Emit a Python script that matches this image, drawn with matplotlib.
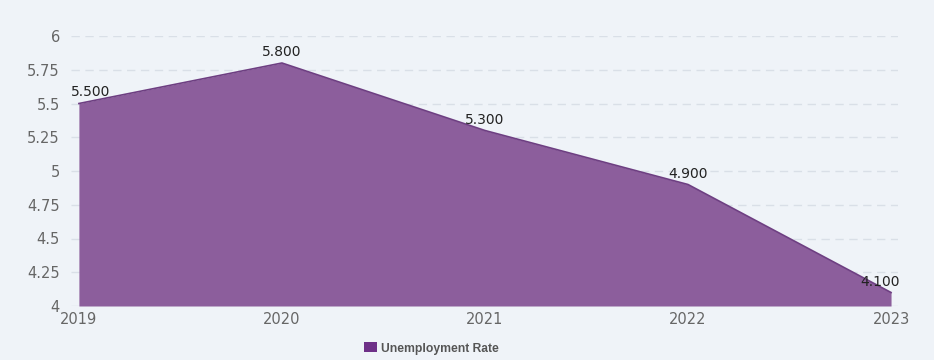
import numpy as np
import matplotlib.pyplot as plt
from matplotlib.patches import Patch

years = [2019, 2020, 2021, 2022, 2023]
rate = [5.5, 5.8, 5.3, 4.9, 4.1]
y_ticks = [4, 4.25, 4.5, 4.75, 5, 5.25, 5.5, 5.75, 6]
y_labels = ["4", "4.25", "4.5", "4.75", "5", "5.25", "5.5", "5.75", "6"]
series_name = "Unemployment Rate"

bg = "#eff3f8"
fill_col = "#8c5e9c"
edge_col = "#6e3f82"
tick_col = "#666666"

fig = plt.figure(figsize=(9.34, 3.6), dpi=100, facecolor=bg)
ax = fig.add_axes([0.076, 0.15, 0.8854, 0.75], facecolor=bg)

ax.fill_between(years, 4, rate, color=fill_col, lw=0, zorder=2)
ax.plot(years, rate, color=edge_col, lw=1.2, zorder=3)

ax.set_xlim(2019 - 0.039, 2023 + 0.034)
ax.set_ylim(4, 6)
ax.set_yticks(y_ticks)
ax.set_yticklabels(y_labels)
ax.set_xticks(years)
ax.set_xticklabels([str(y) for y in years])
ax.grid(axis="y", color="#d9dfe7", lw=1.0, ls=(0, (6, 4)), zorder=1)
ax.grid(axis="x", visible=False)
for s in ax.spines.values():
    s.set_visible(False)
ax.tick_params(axis="both", length=0, labelsize=10.5, colors=tick_col)
ax.tick_params(axis="y", pad=8)
ax.tick_params(axis="x", pad=4)

# label offsets keep the end labels inside the plot
shifts = [12, 0, 0, 0, -11]
for x, v, dx in zip(years, rate, shifts):
    ax.annotate(f"{v:.3f}", (x, v), xytext=(dx, 4), textcoords="offset pixels",
                ha="center", va="bottom", fontsize=10, color="#222222", zorder=4)

handle = Patch(facecolor="#6e3088", edgecolor="none")
fig.legend([handle], [series_name], loc="center", bbox_to_anchor=(0.462, 0.032),
           frameon=False, handlelength=1.1, handleheight=0.9,
           handletextpad=0.3, labelcolor="#555555",
           prop={"family": "Liberation Sans", "weight": "bold", "size": 8.7})

fig.savefig("out.png", dpi=100, facecolor=bg)
